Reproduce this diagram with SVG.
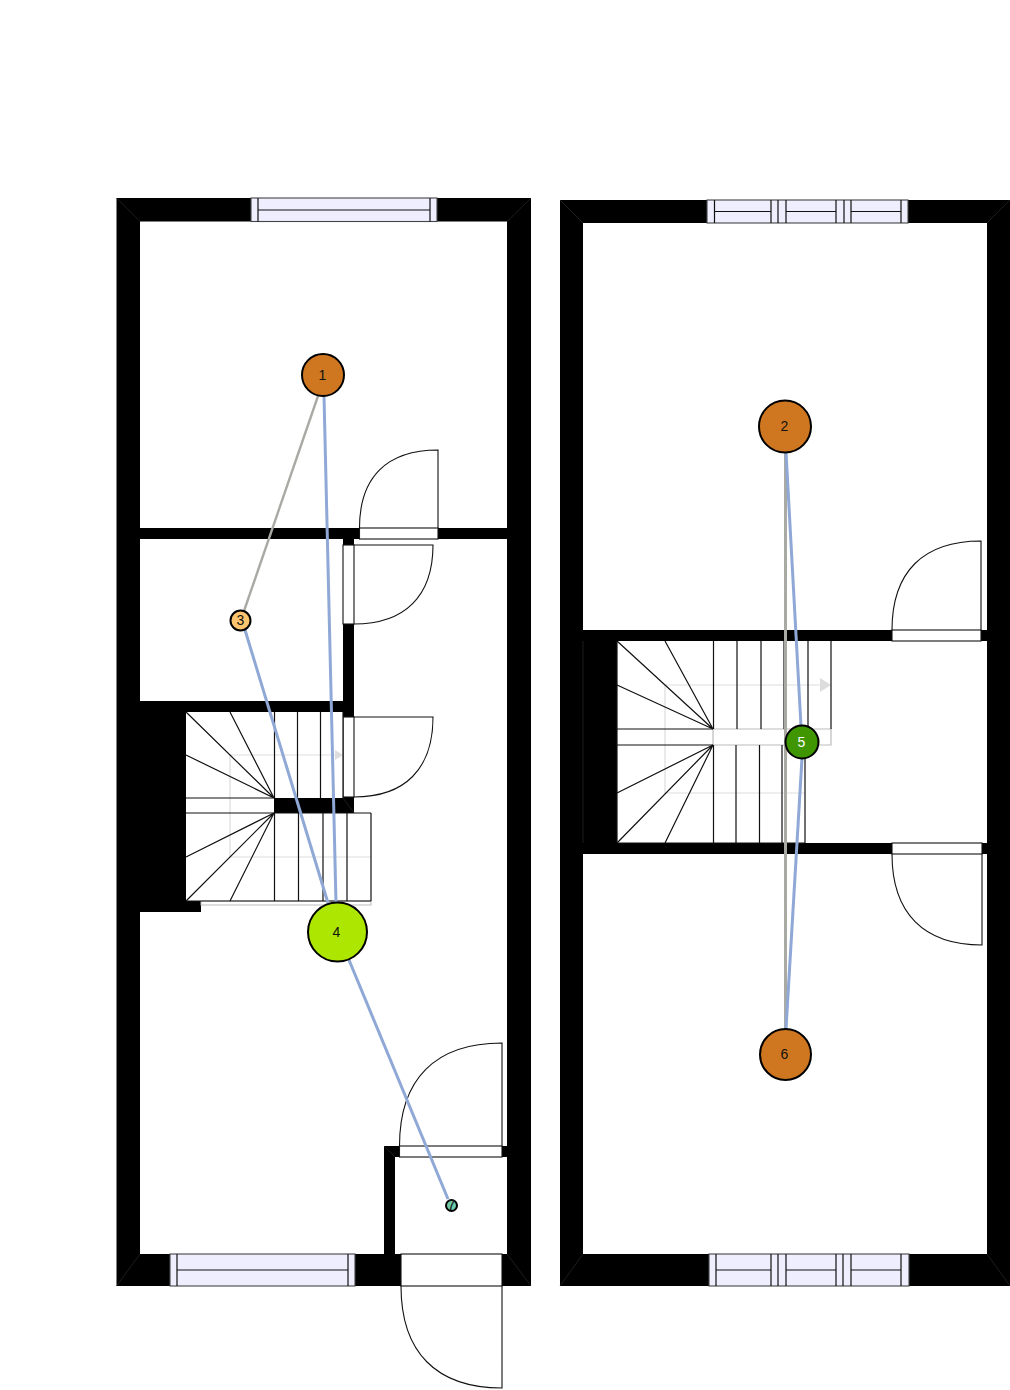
<svg xmlns="http://www.w3.org/2000/svg" width="1010" height="1390" viewBox="0 0 1010 1390">
<style>
.w{fill:#000;stroke:none}
.m{fill:none;stroke:#2a2a2a;stroke-width:.7}
.o{fill:#fff;stroke:#111;stroke-width:1.1}
.g{fill:#eeeeff;stroke:#444;stroke-width:1.1}
.l{fill:none;stroke:#111;stroke-width:1.2}
.d{fill:none;stroke:#111;stroke-width:1.1}
.c{fill:none;stroke:#ddd;stroke-width:1.2}
.p{fill:none;stroke:#bbb;stroke-width:1.2}
.b{fill:none;stroke:#8fa8d6;stroke-width:3}
.y{fill:none;stroke:#aaaaa4;stroke-width:2.4}
.n{stroke:#000;stroke-width:2}
text{font-family:"Liberation Sans",Arial,sans-serif;font-size:14px;text-anchor:middle;fill:#111}
</style>
<rect width="1010" height="1390" fill="#fff"/>
<g id="plan-left">
<path class="w" d="M116.500 198H531V1286H116.500ZM140 221.500V528H507V221.500ZM140 539V701H343V539ZM354 539V798H354V813H274V798H186V901H140V912V1254H384V1146H507V539ZM395 1157V1254H507V1157Z" fill-rule="evenodd"/>
<rect class="w" x="140" y="712" width="46" height="189"/>
<rect class="w" x="140" y="901" width="61" height="11"/>
<path class="m" d="M116.500 198L140 221.500M531 198L507 221.500M116.500 1286L140 1254M531 1286L507 1254M384 1146L395 1157M343 798L354 813"/>
<g class="window">
<rect class="g" x="251" y="198" width="186" height="23.500"/>
<path class="l" d="M258 198V221.500M430 198V221.500M258 210H430"/>
<rect class="g" x="170" y="1254" width="185" height="32"/>
<path class="l" d="M177 1254V1286M348 1254V1286M177 1270H348"/>
</g>
<g class="door">
<rect class="o" x="359.500" y="528" width="78.500" height="11"/>
<path class="d" d="M359.500 528C359.500 477 387 450 438 450V528"/>
<rect class="o" x="343" y="545" width="11" height="79"/>
<path class="d" d="M354 545H433C433 596 405 624 354 624"/>
<rect class="o" x="343" y="717" width="11" height="80"/>
<path class="d" d="M354 717H433C433 769 405 797 354 797"/>
<rect class="o" x="399.500" y="1146" width="102.500" height="11"/>
<path class="d" d="M399.500 1146C399.500 1079 435.400 1043 502 1043V1146"/>
<rect class="o" x="401" y="1254" width="101" height="32"/>
<path class="d" d="M401 1286C401 1352 436 1388 502 1388V1286"/>
</g>
<g class="stairs">
<rect x="186" y="712" width="157" height="86" fill="#fff"/>
<rect x="186" y="798" width="88" height="15" fill="#fff"/>
<rect x="274" y="813" width="97" height="88" fill="#fff"/>
<rect x="186" y="813" width="88" height="88" fill="#fff"/>
<path class="c" d="M371 857H230V755H335"/>
<path d="M335 750L343 755L335 760Z" fill="#ddd"/>
<rect x="201" y="901" width="170" height="4" fill="#fff" stroke="#bbb"/>
<path class="l" d="M274.500 712V798M297.500 712V798M320.500 712V798M343 712V798M186 798H274M186 813H371M371 813V901M274.500 813V901M298.500 813V901M323 813V901M347 813V901M186 901H371"/>
<path class="l" d="M274 798L186 712M274 798L230 712M274 798L186 755M274 813L186 901M274 813L230 901M274 813L186 857"/>
</g>
</g>
<g id="plan-right">
<path class="w" d="M560 200H1010V1286H560ZM583 223V630H987V223ZM617 641V843H987V641ZM583 854V1254H987V854Z" fill-rule="evenodd"/>
<path class="m" d="M560 200L583 223M1010 200L987 223M560 1286L583 1254M1010 1286L987 1254M583 641V843"/>
<g class="window">
<rect class="g" x="707" y="200" width="201" height="23"/>
<path class="l" d="M714.500 200V223M771 200V223M778 200V223M786 200V223M836 200V223M844 200V223M851 200V223M901 200V223M714.500 211.500H771M786 211.500H836M851 211.500H901"/>
<rect class="g" x="709" y="1254" width="200" height="32"/>
<path class="l" d="M716 1254V1286M771 1254V1286M778 1254V1286M786 1254V1286M836 1254V1286M843 1254V1286M851 1254V1286M901 1254V1286M716 1270H771M786 1270H836M851 1270H901"/>
</g>
<g class="door">
<rect class="o" x="892" y="630" width="89" height="11"/>
<path class="d" d="M892 630C892 572 923 541 981 541V630"/>
<rect class="o" x="892" y="843" width="90" height="11"/>
<path class="d" d="M892 854C892 913 923.500 945 982 945V854"/>
</g>
<g class="stairs">
<path class="c" d="M805 793H665V685H820"/>
<path d="M820 678L831 685L820 692Z" fill="#ddd"/>
<path class="p" d="M713 729H831V745H713Z"/>
<path class="l" d="M713.500 641V729M737 641V729M761 641V729M784 641V729M808 641V729M831 641V729M617 729H713M617 745H713M617 641V843M617 843H805M713.500 745V843M736 745V843M759.500 745V843M782 745V843M805 745V843"/>
<path class="l" d="M713 729L617 641M713 729L665 641M713 729L617 685M713 745L617 843M713 745L665 843M713 745L617 793"/>
</g>
</g>
<g id="connectors">
<path class="y" d="M318 396L244 611"/>
<path class="y" style="stroke-width:3" d="M785.500 452V1029"/>
<path class="b" d="M324 396L336 903"/>
<path class="b" d="M245 630L328 903"/>
<path class="b" d="M349 960L448 1199"/>
<path class="b" d="M786 452L801 726"/>
<path class="b" d="M802 758L786 1029"/>
</g>
<g id="node-1"><circle class="n" cx="323" cy="375" r="21" fill="#cf7720"/><text x="322.500" y="380">1</text></g>
<g id="node-2"><circle class="n" cx="785" cy="426.500" r="26" fill="#cf7720"/><text x="784.500" y="431">2</text></g>
<g id="node-3"><circle class="n" cx="240.500" cy="620.500" r="10" fill="#ffc56e"/><text x="240.500" y="625">3</text></g>
<g id="node-4"><circle class="n" cx="337.500" cy="932" r="29.500" fill="#ade600"/><text x="336.500" y="937">4</text></g>
<g id="node-5"><circle class="n" cx="802" cy="742" r="16.500" fill="#3f9600"/><text x="801.500" y="747" style="fill:#fff">5</text></g>
<g id="node-6"><circle class="n" cx="785.500" cy="1054.500" r="25.500" fill="#cf7720"/><text x="784.500" y="1059">6</text></g>
<g id="node-7"><circle class="n" cx="451.500" cy="1205.500" r="5.500" fill="#6dc9a8"/><text x="451.500" y="1210">7</text></g>
</svg>
